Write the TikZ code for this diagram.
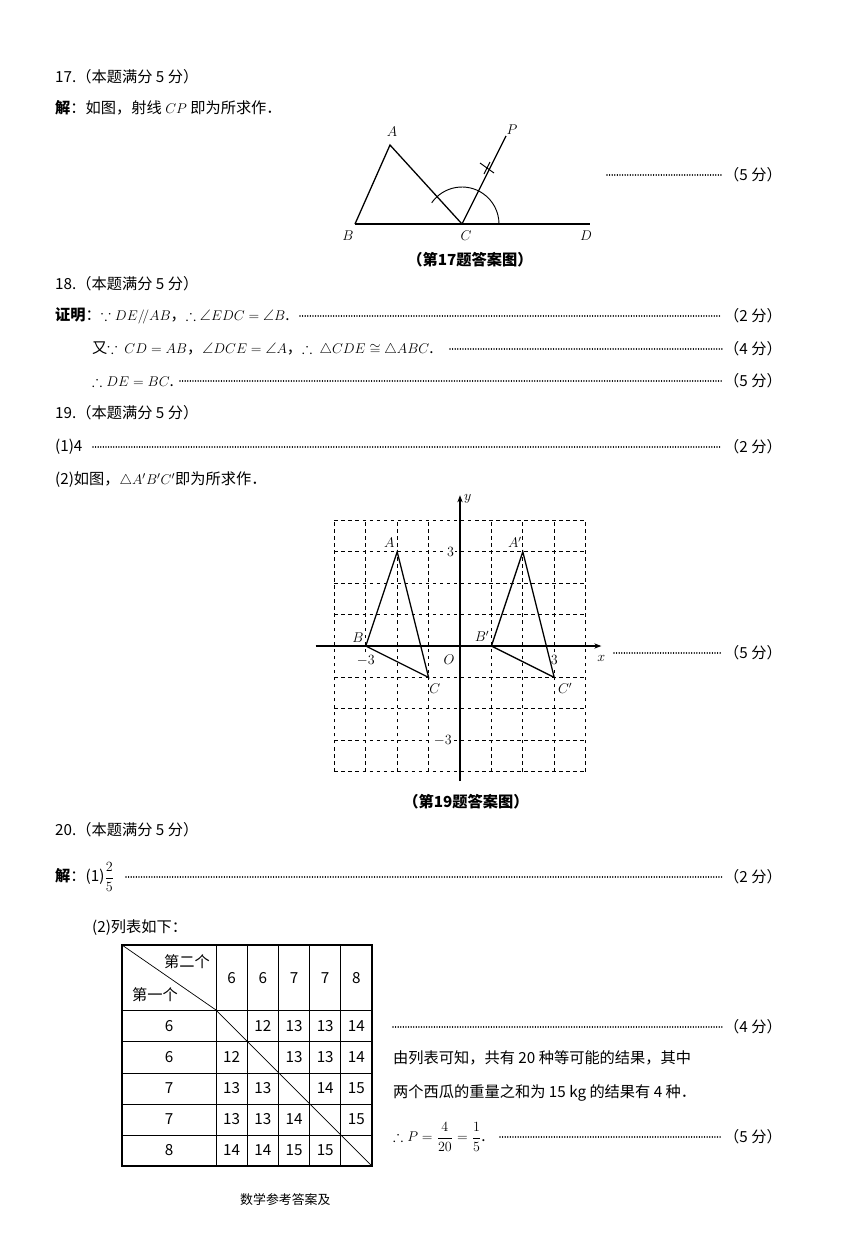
\documentclass[tikz,border=0pt]{standalone}
\usepackage{amsmath,amssymb}
\usepackage{fontspec}
\setmainfont{Noto Sans CJK SC}
\usetikzlibrary{arrows.meta}
\begin{document}
\begin{tikzpicture}[x=0.03cm,y=-0.03cm,font=\fontsize{13}{15}\selectfont]
	\tikzstyle{txt}=[anchor=west,inner sep=0pt]
	\tikzstyle{lead}=[line width=1.3pt,dash pattern=on 0.01pt off 2.2pt,line cap=round]
	\tikzstyle{score}=[anchor=east,inner sep=0pt]
	\tikzstyle{grid}=[dashed,line width=0.6pt]
	\tikzstyle{tri}=[line width=1.1pt]
	\tikzstyle{lbl}=[font=\fontsize{12}{14}\selectfont,inner sep=1pt]
	\useasboundingbox (0,0) rectangle (843,1257);
	% problem 17
	\node[txt] (p17) at (55,77) {17.（本题满分 5 分）};
	\node[txt] (s17) at (55,108) {\textbf{解}：如图，射线 $CP$ 即为所求作．};
	\coordinate (B) at (355,224);
	\coordinate (C) at (462,224);
	\coordinate (D) at (590,224);
	\coordinate (A) at (390,145);
	\coordinate (P) at (506,136);
	\draw[tri] (B) -- (A) -- (C);
	\draw[tri] (B) -- (D);
	\draw[tri] (C) -- (P);
	\draw[line width=0.8pt] (C) ++(-145:37) arc[start angle=-145,end angle=0,radius=37];
	\draw[line width=0.8pt] (480,163) -- (494,173) (484,174) -- (490,162);
	\node[lbl] at (348,236) {$B$};
	\node[lbl] at (466,236) {$C$};
	\node[lbl] at (586,236) {$D$};
	\node[lbl] at (392,132) {$A$};
	\node[lbl] at (512,130) {$P$};
	\draw[lead] (607,175) -- (722,175);
	\node[score] at (782,175) {（5 分）};
	\node (cap17) at (470,260) {\textbf{（第17题答案图）}};
	% problem 18
	\node[txt] (p18) at (55,284) {18.（本题满分 5 分）};
	\node[txt] (s18a) at (55,316) {\textbf{证明}：$\because DE/\!/AB$，$\therefore \angle EDC=\angle B$.};
	\draw[lead] (300,316) -- (722,316);
	\node[score] at (782,316) {（2 分）};
	\node[txt] (s18b) at (92,349) {又$\because$ \ $CD=AB$，$\angle DCE=\angle A$，$\therefore\ \triangle CDE\cong\triangle ABC$.};
	\draw[lead] (450,349) -- (722,349);
	\node[score] at (782,349) {（4 分）};
	\node[txt] (s18c) at (92,381) {$\therefore DE=BC$.};
	\draw[lead] (180,381) -- (722,381);
	\node[score] at (782,381) {（5 分）};
	% problem 19
	\node[txt] (p19) at (55,413) {19.（本题满分 5 分）};
	\node[txt] (s19a) at (55,447) {(1)4};
	\draw[lead] (93,447) -- (722,447);
	\node[score] at (782,447) {（2 分）};
	\node[txt] (s19b) at (55,480) {(2)如图，$\triangle A'B'C'$即为所求作．};
	\begin{scope}[shift={(460,646)},x=0.942cm,y=0.942cm]
		\foreach \i in {-4,...,4} {
			\draw[grid] (\i,-4) -- (\i,4);
			\draw[grid] (-4,\i) -- (4,\i);
		}
		\draw[-{Stealth[length=6pt]},line width=0.9pt] (-4.6,0) -- (4.5,0);
		\draw[-{Stealth[length=6pt]},line width=0.9pt] (0,-4.3) -- (0,4.8);
		\node[lbl] at (4.5,-0.4) {$x$};
		\node[lbl] at (0.25,4.7) {$y$};
		\node[lbl] at (-0.35,-0.45) {$O$};
		\node[lbl,fill=white] at (-3,-0.45) {$-3$};
		\node[lbl,fill=white] at (3,-0.45) {$3$};
		\node[lbl,fill=white] at (-0.3,3) {$3$};
		\node[lbl,fill=white] at (-0.55,-3) {$-3$};
		\draw[tri] (-2,3) -- (-3,0) -- (-1,-1) -- cycle;
		\draw[tri] (2,3) -- (1,0) -- (3,-1) -- cycle;
		\node[lbl] at (-2.25,3.3) {$A$};
		\node[lbl] at (-3.25,0.25) {$B$};
		\node[lbl] at (-0.8,-1.35) {$C$};
		\node[lbl] at (1.75,3.3) {$A'$};
		\node[lbl] at (0.7,0.3) {$B'$};
		\node[lbl] at (3.35,-1.35) {$C'$};
	\end{scope}
	\draw[lead] (614,653) -- (722,653);
	\node[score] at (782,653) {（5 分）};
	\node (cap19) at (466,802) {\textbf{（第19题答案图）}};
	% problem 20
	\node[txt] (p20) at (55,830) {20.（本题满分 5 分）};
	\node[txt] (s20a) at (55,877) {\textbf{解}：(1)$\dfrac{2}{5}$};
	\draw[lead] (126,877) -- (722,877);
	\node[score] at (782,877) {（2 分）};
	\node[txt] (s20b) at (92,928) {(2)列表如下：};
	% table
	\draw[line width=1.1pt] (122,945) rectangle (372,1166);
	\foreach \x in {216,247,278,309,340} \draw[line width=0.6pt] (\x,945) -- (\x,1166);
	\foreach \y in {1010,1041,1073,1104,1135} \draw[line width=0.6pt] (122,\y) -- (372,\y);
	\draw[line width=0.6pt] (122,945) -- (216,1010);
	\node at (187,962) {第二个};
	\node at (155,995) {第一个};
	\foreach \v [count=\i] in {6,6,7,7,8} {
		\node at ({216+31.2*(\i-0.5)},978) {\v};
		\node at (169,{1010+31.2*(\i-0.5)}) {\v};
		\draw[line width=0.6pt] ({216+31.2*(\i-1)},{1010+31.2*(\i-1)}) -- ({216+31.2*\i},{1010+31.2*\i});
	}
	\foreach \r/\row in {1/{0,12,13,13,14},2/{12,0,13,13,14},3/{13,13,0,14,15},4/{13,13,14,0,15},5/{14,14,15,15,0}} {
		\foreach \v [count=\c] in \row {
			\ifnum\v>0 \node at ({216+31.2*(\c-0.5)},{1010+31.2*(\r-0.5)}) {\v};\fi
		}
	}
	\draw[lead] (393,1027) -- (722,1027);
	\node[score] at (782,1027) {（4 分）};
	\node[txt] (t1) at (393,1058) {由列表可知，共有 20 种等可能的结果，其中};
	\node[txt] (t2) at (393,1093) {两个西瓜的重量之和为 15 kg 的结果有 4 种．};
	\node[txt] (t3) at (393,1137) {$\therefore P=\dfrac{4}{20}=\dfrac{1}{5}$.};
	\draw[lead] (500,1137) -- (722,1137);
	\node[score] at (782,1137) {（5 分）};
	\node[txt,font=\fontsize{11}{13}\selectfont] (foot) at (240,1200) {数学参考答案及};
\end{tikzpicture}
\end{document}
